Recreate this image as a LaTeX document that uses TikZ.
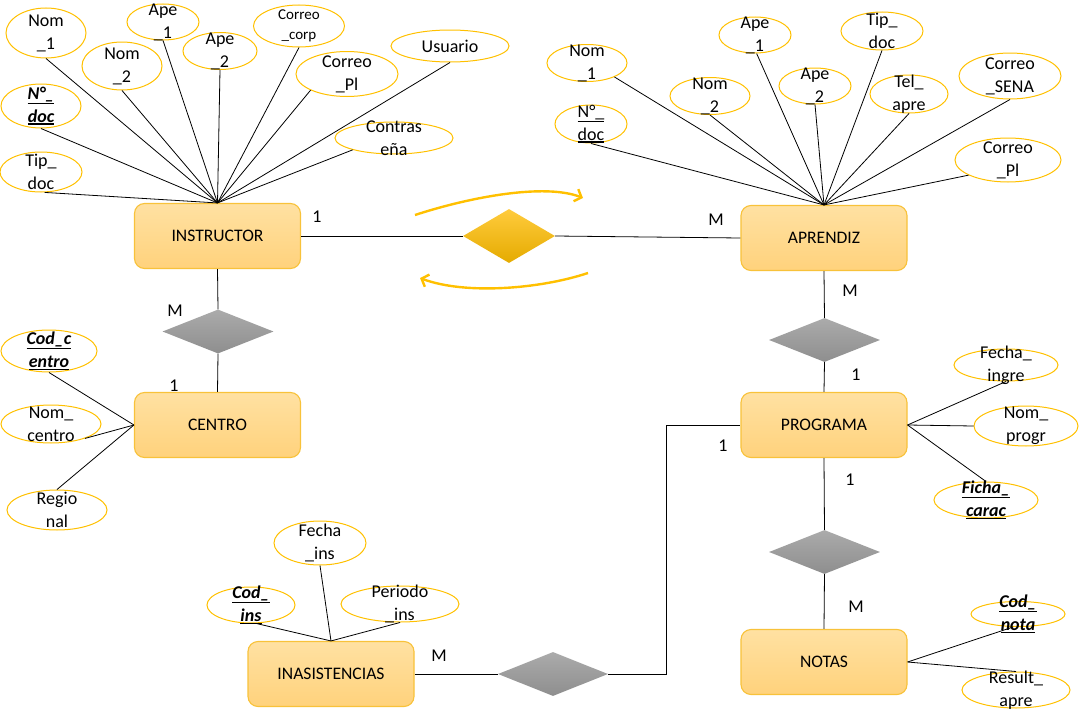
\documentclass[tikz,border=0pt]{standalone}
\usepackage{fontspec}
\setmainfont{Carlito}
\usetikzlibrary{shapes.geometric,arrows.meta}

\definecolor{entTop}{HTML}{FFE1A2}
\definecolor{entBot}{HTML}{FFD27C}
\definecolor{entLine}{HTML}{F8C23A}
\definecolor{attrLine}{HTML}{FFC000}
\definecolor{flowGold}{HTML}{FFC000}
\definecolor{relTop}{HTML}{FFCB3D}
\definecolor{relMid}{HTML}{FFC000}
\definecolor{relBot}{HTML}{E5AB00}
\definecolor{grayTop}{HTML}{ABABAB}
\definecolor{grayBot}{HTML}{8E8E8E}

% thick underline used for key attributes
\newcommand{\keyul}[1]{\vtop{\hbox{#1}\kern0.8pt\hrule height 1.5pt}}
\newcommand{\keyattr}[1]{\textbf{\textit{\keyul{#1}}}}

\begin{document}
\begin{tikzpicture}[x=1pt,y=-1pt,
  entity/.style={rectangle, rounded corners=10pt, draw=entLine, line width=1.1pt,
    top color=entTop, bottom color=entBot, minimum width=166pt, minimum height=65pt,
    font=\fontsize{17.6}{20}\selectfont},
  attr/.style={ellipse, draw=attrLine, line width=1pt, inner sep=0pt},
  esz/.style 2 args={minimum width=#1pt, minimum height=#2pt},
  atxt/.style={align=center, inner sep=0pt, font=\fontsize{18}{23}\selectfont},
  stxt/.style={align=center, inner sep=0pt, font=\fontsize{15}{20}\selectfont},
  relgold/.style={diamond, inner sep=0pt, top color=relTop, middle color=relMid, bottom color=relBot},
  relgray/.style={diamond, inner sep=0pt, top color=grayTop, bottom color=grayBot,
    minimum width=111pt, minimum height=44pt},
  card/.style={inner sep=0pt, font=\fontsize{18}{20}\selectfont},
  link/.style={draw=black, line width=0.8pt},
  flow/.style={draw=flowGold, line width=2.4pt, -{Straight Barb[length=6pt,width=13pt]}}
]
\useasboundingbox (0,0) rectangle (1080,720);

% ---------- entities ----------
\node[entity] (inst)  at (217.5,236) {INSTRUCTOR};
\node[entity] (apr)   at (824,238)   {APRENDIZ};
\node[entity] (cen)   at (217.5,425) {CENTRO};
\node[entity] (prog)  at (824,425)   {PROGRAMA};
\node[entity] (inas)  at (331,674)   {INASISTENCIAS};
\node[entity] (notas) at (824,662)   {NOTAS};

% ---------- relationships ----------
\node[relgold, minimum width=92pt, minimum height=54pt] (r1) at (509,236) {};
\node[relgray] (r2) at (218,331.5) {};
\node[relgray] (r3) at (824.5,340) {};
\node[relgray] (r4) at (824.5,552) {};
\node[relgray, minimum width=110pt] (r5) at (553,674) {};

\draw[link] (inst.east) -- (r1.west);
\draw[link] (r1.east) -- (apr.west);
\draw[link] (inst.south) -- (r2.north);
\draw[link] (r2.south) -- (cen.north);
\draw[link] (apr.south) -- (r3.north);
\draw[link] (r3.south) -- (prog.north);
\draw[link] (prog.south) -- (r4.north);
\draw[link] (r4.south) -- (notas.north);
\draw[link] (inas.east) -- (r5.west);
\draw[link] (r5.east) -- ++(58,0) |- (prog.west);

% ---------- cardinalities ----------
\node[card] (c1) at (317,217) {1};
\node[card] (c2) at (716,220) {M};
\node[card] (c3) at (175,311) {M};
\node[card] (c4) at (174,386) {1};
\node[card] (c5) at (850,291) {M};
\node[card] (c6) at (856,375) {1};
\node[card] (c7) at (723,446) {1};
\node[card] (c8) at (850,480) {1};
\node[card] (c9) at (856,607) {M};
\node[card] (c10) at (439,656) {M};

% ---------- flow arrows around the main relationship ----------
\coordinate (fa1) at (415,215);
\coordinate (fa2) at (583,198);
\coordinate (fb1) at (588,273);
\coordinate (fb2) at (420,278);
\draw[flow] (fa1) .. controls (470,197) and (545,183) .. (fa2);
\draw[flow] (fb1) .. controls (540,289) and (465,295) .. (fb2);

% ---------- INSTRUCTOR attributes ----------
\node[attr, esz={80}{50}] (i1) at (46,33) {};
\node[atxt] (i1t) at (i1) {Nom\\\_1};
\node[attr, esz={72}{36}] (i2) at (163,22) {};
\node[atxt] (i2t) at (i2) {Ape\\\_1};
\node[attr, esz={80}{48}] (i3) at (122,66) {};
\node[atxt] (i3t) at (i3) {Nom\\\_2};
\node[attr, esz={74}{37}] (i4) at (220,51) {};
\node[atxt] (i4t) at (i4) {Ape\\\_2};
\node[attr, esz={91}{42}] (i5) at (299,26) {};
\node[stxt] (i5t) at (i5) {Correo\\\_corp};
\node[attr, esz={102}{45}] (i6) at (347,74) {};
\node[atxt] (i6t) at (i6) {Correo\\\_Pl};
\node[attr, esz={118}{32}] (i7) at (450,46) {};
\node[atxt] (i7t) at (i7) {Usuario};
\node[attr, esz={118}{32}] (i8) at (394,138) {};
\node[atxt] (i8t) at (i8) {Contras\\eña};
\node[attr, esz={80}{44}] (i9) at (41,106) {};
\node[atxt] (i9t) at (i9) {\keyattr{N°\_}\\\keyattr{doc}};
\node[attr, esz={82}{40}] (i10) at (41,172) {};
\node[atxt] (i10t) at (i10) {Tip\_\\doc};

\foreach \a/\b in {i1/south, i2/south, i3/south, i4/south, i5/south, i6/204,
                   i7/south, i8/196, i9/south, i10/-80}
  \draw[link] (inst.north) -- (\a.\b);

% ---------- APRENDIZ attributes ----------
\node[attr, esz={80}{37}] (a1) at (587,63) {};
\node[atxt] (a1t) at (a1) {Nom\\\_1};
\node[attr, esz={72}{38}] (a2) at (591,124) {};
\node[atxt] (a2t) at (a2) {\keyul{N°\_}\\\keyul{doc}};
\node[attr, esz={80}{37}] (a3) at (710,96) {};
\node[atxt] (a3t) at (a3) {Nom\\\_2};
\node[attr, esz={72}{36}] (a4) at (755,35) {};
\node[atxt] (a4t) at (a4) {Ape\\\_1};
\node[attr, esz={72}{36}] (a5) at (815,86) {};
\node[atxt] (a5t) at (a5) {Ape\\\_2};
\node[attr, esz={82}{38}] (a6) at (882,31) {};
\node[atxt] (a6t) at (a6) {Tip\_\\doc};
\node[attr, esz={78}{38}] (a7) at (909,94) {};
\node[atxt] (a7t) at (a7) {Tel\_\\apre};
\node[attr, esz={102}{46}] (a8) at (1010,76) {};
\node[atxt] (a8t) at (a8) {Correo\\\_SENA};
\node[attr, esz={106}{44}] (a9) at (1008,160) {};
\node[atxt] (a9t) at (a9) {Correo\\\_Pl};

\foreach \a/\b in {a1/333, a2/south, a3/south, a4/-85, a5/south, a6/south,
                   a7/south, a8/south, a9/201}
  \draw[link] (apr.north) -- (\a.\b);

% ---------- CENTRO attributes ----------
\node[attr, esz={96}{42}] (e1) at (49,351) {};
\node[atxt] (e1t) at (e1) {\keyattr{Cod\_c}\\\keyattr{entro}};
\node[attr, esz={100}{38}] (e2) at (51,424) {};
\node[atxt] (e2t) at (e2) {Nom\_\\centro};
\node[attr, esz={100}{40}] (e3) at (57,510) {};
\node[atxt] (e3t) at (e3) {Regio\\nal};

\foreach \a/\b in {e1/south, e2/337, e3/north}
  \draw[link] (cen.west) -- (\a.\b);

% ---------- PROGRAMA attributes ----------
\node[attr, esz={104}{32}] (p1) at (1006,365) {};
\node[atxt] (p1t) at (p1) {Fecha\_\\ingre};
\node[attr, esz={104}{40}] (p2) at (1026,426) {};
\node[atxt] (p2t) at (p2) {Nom\_\\progr};
\node[attr, esz={104}{36}] (p3) at (986,500) {};
\node[atxt] (p3t) at (p3) {\keyattr{Ficha\_}\\\keyattr{carac}};

\foreach \a/\b in {p1/south, p2/west, p3/north}
  \draw[link] (prog.east) -- (\a.\b);

% ---------- INASISTENCIAS attributes ----------
\node[attr, esz={92}{44}] (n1) at (320,543) {};
\node[atxt] (n1t) at (n1) {Fecha\\\_ins};
\node[attr, esz={88}{36}] (n2) at (251,605) {};
\node[atxt] (n2t) at (n2) {\keyattr{Cod\_}\\\keyattr{ins}};
\node[attr, esz={118}{36}] (n3) at (400,604) {};
\node[atxt] (n3t) at (n3) {Periodo\\\_ins};

\foreach \a/\b in {n1/south, n2/-75, n3/south}
  \draw[link] (inas.north) -- (\a.\b);

% ---------- NOTAS attributes ----------
\node[attr, esz={94}{25}] (t1) at (1018,614) {};
\node[atxt] (t1t) at (t1) {\keyattr{Cod\_}\\\keyattr{nota}};
\node[attr, esz={108}{36}] (t2) at (1016,690) {};
\node[atxt] (t2t) at (t2) {Result\_\\apre};

\foreach \a/\b in {t1/250, t2/north}
  \draw[link] (notas.east) -- (\a.\b);

\end{tikzpicture}
\end{document}
